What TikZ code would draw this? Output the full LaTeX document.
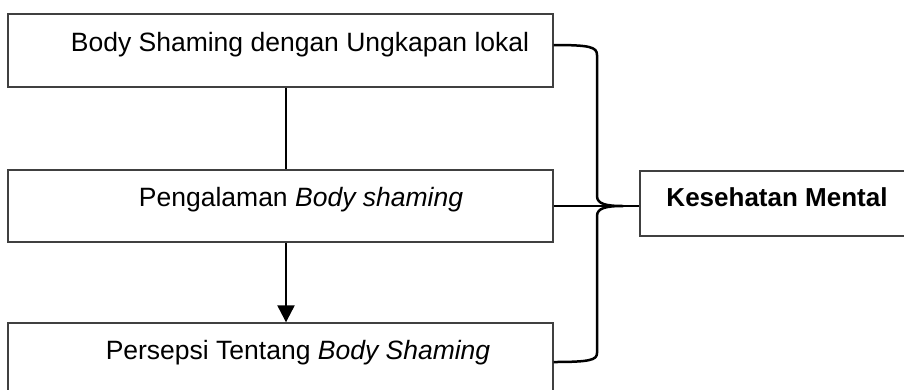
\documentclass[tikz,border=0pt]{standalone}
\usepackage{fontspec}
\setmainfont{Liberation Sans}
\usetikzlibrary{arrows.meta}

\begin{document}
\begin{tikzpicture}[
    x=1pt,
    y=-1pt,
    block/.style={
        rectangle,
        draw=black!75,
        line width=1.4pt,
        fill=white,
        minimum width=545pt,
        inner sep=0pt
    },
    caption/.style={
        anchor=base,
        inner sep=0pt,
        font=\fontsize{26.5}{32}\selectfont
    },
    link/.style={
        -,
        line width=2.5pt,
        black
    },
    linkarrow/.style={
        -{Triangle[width=17pt,length=17pt]},
        line width=2.3pt,
        black,
        shorten >=0pt
    }
]

\useasboundingbox (0,0) rectangle (904,389);

\node[block,minimum height=73pt] (B1) at (280.5,50.5) {};
\node[block,minimum height=72pt] (B2) at (280.5,206) {};
\node[block,minimum height=77pt] (B3) at (280.5,361.5) {};
\node[block,minimum width=280pt,minimum height=65pt] (KM) at (780,203.5) {};

\node[caption] (T1) at (300,51) {Body Shaming dengan Ungkapan lokal};
\node[caption] (T2) at (301,206) {Pengalaman \textit{Body shaming}};
\node[caption] (T3) at (298,359) {Persepsi Tentang \textit{Body Shaming}};
\node[caption,font=\fontsize{26}{32}\selectfont\bfseries] (T4) at (777,206) {Kesehatan Mental};

\coordinate (vx) at (286,0);
\coordinate (bx) at (597,0);
\coordinate (tip) at (623,206);

\draw[link] (B1.south -| vx) -- (B2.north -| vx);
\draw[linkarrow] (B2.south -| vx) -- (B3.north -| vx);

\draw[link] (B2.east) -- (B2.east -| KM.west);

\draw[link,line join=round]
    (B1.east |- 0,45) .. controls (590,45) and (597,47) .. (bx |- 0,55)
    -- (bx |- 0,196) .. controls (597,204) and (606,206) .. (tip)
    .. controls (606,206) and (597,208) .. (bx |- 0,216)
    -- (bx |- 0,353) .. controls (597,360) and (590,362) .. (B3.east |- 0,362);

\end{tikzpicture}
\end{document}
